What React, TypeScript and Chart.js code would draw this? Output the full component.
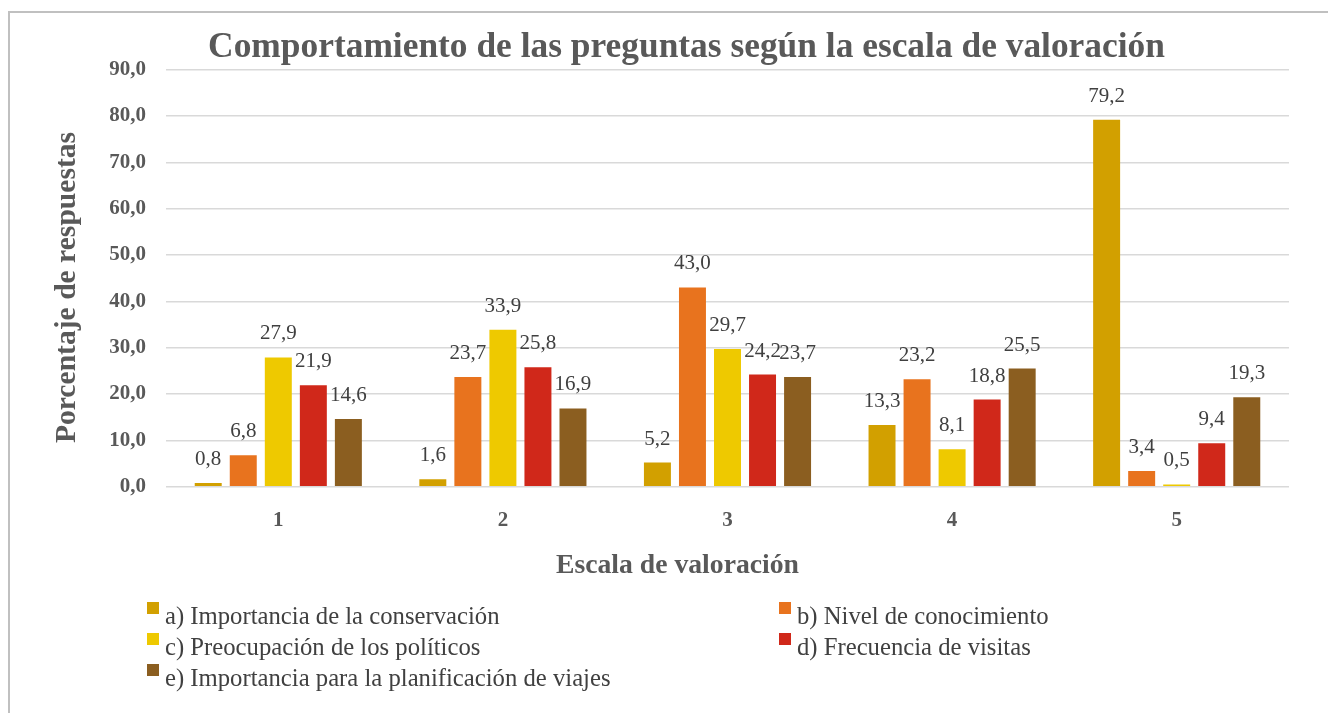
import React, { useEffect, useRef } from "react";
import { Chart, registerables } from "chart.js";

Chart.register(...registerables);

const categories = ["1", "2", "3", "4", "5"];
const seriesNames = [
  "a) Importancia de la conservación",
  "b) Nivel de conocimiento",
  "c) Preocupación de los políticos",
  "d) Frecuencia de visitas",
  "e) Importancia para la planificación de viajes",
];
const seriesA = [0.8, 1.6, 5.2, 13.3, 79.2];
const seriesB = [6.8, 23.7, 43.0, 23.2, 3.4];
const seriesC = [27.9, 33.9, 29.7, 8.1, 0.5];
const seriesD = [21.9, 25.8, 24.2, 18.8, 9.4];
const seriesE = [14.6, 16.9, 23.7, 25.5, 19.3];
const seriesColors = ["#D2A000", "#E8731E", "#EEC900", "#D0281A", "#8B5E20"];

const titleText = "Comportamiento de las preguntas según la escala de valoración";
const yTitleText = "Porcentaje de respuestas";
const xTitleText = "Escala de valoración";

const FONT = "\"Liberation Serif\", \"DejaVu Serif\", serif";
const fmt = (v: number) => v.toFixed(1).replace(".", ",");

function fitSize(ctx: CanvasRenderingContext2D, text: string, weight: string, target: number) {
  ctx.font = `${weight} 100px ${FONT}`;
  const w = ctx.measureText(text).width;
  return Math.round(((100 * target) / w) * 10) / 10;
}

const decorPlugin = {
  id: "decor",
  beforeDraw(chart: any) {
    const ctx = chart.ctx;
    ctx.save();
    ctx.fillStyle = "#c0c0c0";
    ctx.fillRect(8, 11, 1320, 2);
    ctx.fillRect(8, 11, 2, 702);
    ctx.restore();
  },
  afterDraw(chart: any) {
    const ctx: CanvasRenderingContext2D = chart.ctx;
    ctx.save();
    // title
    let s = fitSize(ctx, titleText, "bold", 957);
    ctx.font = `bold ${s}px ${FONT}`;
    ctx.fillStyle = "#595959";
    ctx.textAlign = "center";
    ctx.textBaseline = "alphabetic";
    ctx.fillText(titleText, 686.5, 57);
    // x title
    s = fitSize(ctx, xTitleText, "bold", 243);
    ctx.font = `bold ${s}px ${FONT}`;
    ctx.fillText(xTitleText, 677.5, 573);
    // y title
    s = fitSize(ctx, yTitleText, "bold", 311);
    ctx.font = `bold ${s}px ${FONT}`;
    ctx.translate(75, 287.5);
    ctx.rotate(-Math.PI / 2);
    ctx.fillText(yTitleText, 0, 0);
    ctx.setTransform(1, 0, 0, 1, 0, 0);
    // legend
    s = fitSize(ctx, seriesNames[0], "normal", 335);
    ctx.font = `normal ${s}px ${FONT}`;
    ctx.textAlign = "left";
    const cols = [147, 779];
    seriesNames.forEach((name, i) => {
      const col = i % 2;
      const row = Math.floor(i / 2);
      const bx = cols[col];
      const by = 602 + row * 31;
      ctx.fillStyle = seriesColors[i];
      ctx.fillRect(bx, by, 12, 12);
      ctx.fillStyle = "#404040";
      ctx.fillText(name, bx + 18, 624 + row * 31);
    });
    ctx.restore();
  },
  afterDatasetsDraw(chart: any) {
    const ctx: CanvasRenderingContext2D = chart.ctx;
    ctx.save();
    ctx.font = `normal 21px ${FONT}`;
    ctx.fillStyle = "#404040";
    ctx.textAlign = "center";
    ctx.textBaseline = "alphabetic";
    chart.data.datasets.forEach((ds: any, i: number) => {
      const meta = chart.getDatasetMeta(i);
      meta.data.forEach((bar: any, j: number) => {
        ctx.fillText(fmt(ds.data[j]), bar.x, bar.y - 18);
      });
    });
    ctx.restore();
  },
};

export default function App() {
  const ref = useRef<HTMLCanvasElement>(null);
  useEffect(() => {
    if (!ref.current) return;
    const all = [seriesA, seriesB, seriesC, seriesD, seriesE];
    const chart = new Chart(ref.current, {
      type: "bar",
      data: {
        labels: categories,
        datasets: all.map((d, i) => ({
          label: seriesNames[i],
          data: d,
          backgroundColor: seriesColors[i],
          categoryPercentage: 0.78,
          barPercentage: 0.77,
        })),
      },
      options: {
        responsive: false,
        animation: false,
        devicePixelRatio: 1,
        layout: { padding: { left: 0, top: 69.7, right: 39, bottom: 713 - 486.7 - 40 } },
        plugins: { legend: { display: false }, tooltip: { enabled: false }, title: { display: false } },
        scales: {
          x: {
            grid: { display: false, drawTicks: false },
            border: { display: false },
            ticks: { font: { family: FONT, size: 21, weight: "bold" }, color: "#595959", padding: 21 },
            afterFit: (scale: any) => {
              scale.height = 40;
            },
          },
          y: {
            min: 0,
            max: 90,
            grid: { color: "#d9d9d9", lineWidth: 1.5, drawTicks: false },
            border: { display: false },
            ticks: {
              stepSize: 10,
              font: { family: FONT, size: 21, weight: "bold" },
              color: "#595959",
              padding: 20,
              callback: (v: any) => fmt(Number(v)),
            },
            afterFit: (scale: any) => {
              scale.width = 166;
            },
          },
        },
      },
      plugins: [decorPlugin],
    });
    return () => chart.destroy();
  }, []);
  return (
    <canvas
      ref={ref}
      width={1328}
      height={713}
      style={{ position: "fixed", left: 0, top: 0, width: 1328, height: 713 }}
    />
  );
}
